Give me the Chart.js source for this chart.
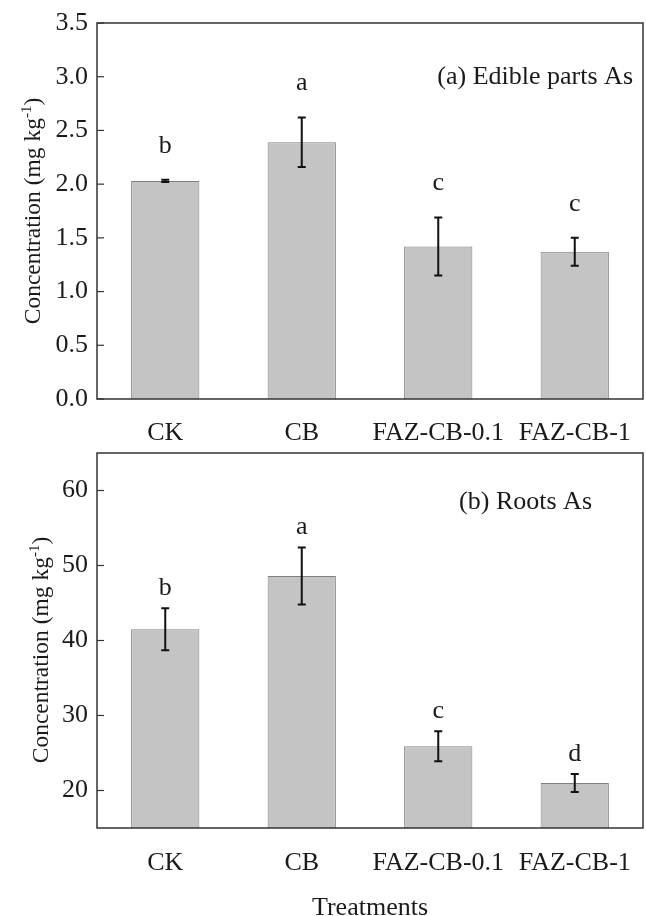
<!DOCTYPE html>
<html>
<head>
<meta charset="utf-8">
<script src="https://cdn.jsdelivr.net/npm/chart.js@4.4.1/dist/chart.umd.min.js"></script>
<style>
  html, body { margin: 0; padding: 0; background: #fff; }
  #wrap { position: relative; width: 646px; height: 916px; overflow: hidden; }
  canvas { position: absolute; left: 0; }
</style>
</head>
<body>
<div id="wrap">
  <canvas id="top" width="646" height="445" style="top:0"></canvas>
  <canvas id="bottom" width="646" height="471" style="top:445px"></canvas>
</div>
<script>
const categories = ['CK', 'CB', 'FAZ-CB-0.1', 'FAZ-CB-1'];
const edibleMeans = [2.03, 2.39, 1.42, 1.37];
const edibleErrors = [0.01, 0.23, 0.27, 0.13];
const edibleLetters = ['b', 'a', 'c', 'c'];
const edibleTicks = [0, 0.5, 1.0, 1.5, 2.0, 2.5, 3.0, 3.5];
const rootMeans = [41.5, 48.6, 25.9, 21.0];
const rootErrors = [2.8, 3.8, 2.0, 1.2];
const rootLetters = ['b', 'a', 'c', 'd'];
const rootTicks = [20, 30, 40, 50, 60];

const SERIF = '"Liberation Serif", "Times New Roman", serif';
const TXT = '#1a1a1a';

const decorPlugin = {
  id: 'decor',
  afterDatasetsDraw(chart, args, opts) {
    const ctx = chart.ctx;
    const ca = chart.chartArea;
    const x = chart.scales.x, y = chart.scales.y;
    ctx.save();
    // frame
    ctx.strokeStyle = '#333';
    ctx.lineWidth = 1.5;
    ctx.strokeRect(ca.left, ca.top, ca.right - ca.left, ca.bottom - ca.top);
    // inward ticks on left axis
    ctx.lineWidth = 1.2;
    y.ticks.forEach(t => {
      const py = y.getPixelForValue(t.value);
      ctx.beginPath();
      ctx.moveTo(ca.left, py);
      ctx.lineTo(ca.left + 7, py);
      ctx.stroke();
    });
    // error bars
    ctx.strokeStyle = '#111';
    ctx.lineWidth = 2;
    opts.means.forEach((m, i) => {
      const px = x.getPixelForValue(i);
      const yt = y.getPixelForValue(m + opts.errors[i]);
      const yb = y.getPixelForValue(m - opts.errors[i]);
      ctx.beginPath();
      ctx.moveTo(px, yt); ctx.lineTo(px, yb);
      ctx.moveTo(px - 4, yt); ctx.lineTo(px + 4, yt);
      ctx.moveTo(px - 4, yb); ctx.lineTo(px + 4, yb);
      ctx.stroke();
    });
    // significance letters
    ctx.fillStyle = TXT;
    ctx.font = '26px ' + SERIF;
    ctx.textAlign = 'center';
    ctx.textBaseline = 'middle';
    opts.letters.forEach((l, i) => {
      const px = x.getPixelForValue(i);
      const yt = y.getPixelForValue(opts.means[i] + opts.errors[i]);
      ctx.fillText(l, px, yt - opts.letterGap);
    });
    // panel label
    ctx.textAlign = 'right';
    ctx.fillText(opts.label, opts.labelX, ca.top + opts.labelDy);
    // y-axis title with superscript
    ctx.save();
    ctx.translate(opts.titleX, opts.titleY);
    ctx.rotate(-Math.PI / 2);
    ctx.textAlign = 'left';
    ctx.textBaseline = 'alphabetic';
    const mainFont = '23.5px ' + SERIF, supFont = '15px ' + SERIF;
    const p1 = 'Concentration (mg kg', p2 = '-1', p3 = ')';
    ctx.font = mainFont; const w1 = ctx.measureText(p1).width, w3 = ctx.measureText(p3).width;
    ctx.font = supFont; const w2 = ctx.measureText(p2).width;
    let sx = -(w1 + w2 + w3) / 2;
    const base = 8;
    ctx.font = mainFont; ctx.fillText(p1, sx, base); sx += w1;
    ctx.font = supFont; ctx.fillText(p2, sx, base - 9); sx += w2;
    ctx.font = mainFont; ctx.fillText(p3, sx, base);
    ctx.restore();
    ctx.restore();
  }
};

function makeChart(id, means, errors, letters, ticks, ymin, ymax, cfg) {
  return new Chart(document.getElementById(id), {
    type: 'bar',
    data: {
      labels: categories,
      datasets: [{
        data: means,
        backgroundColor: '#c4c4c4',
        borderColor: '#808080',
        borderWidth: 1,
        barPercentage: 0.5,
        categoryPercentage: 1.0
      }]
    },
    options: {
      responsive: false,
      animation: false,
      devicePixelRatio: 1,
      layout: { padding: { left: 0, right: 3, top: cfg.padTop, bottom: 0 } },
      plugins: {
        legend: { display: false },
        tooltip: { enabled: false },
        decor: {
          means: means, errors: errors, letters: letters,
          letterGap: cfg.letterGap, label: cfg.label, labelX: cfg.labelX, labelDy: cfg.labelDy,
          titleX: cfg.titleX, titleY: cfg.titleY
        }
      },
      scales: {
        x: {
          grid: { display: false, drawTicks: false },
          border: { display: false },
          ticks: { font: { family: SERIF, size: 26 }, color: TXT, padding: cfg.xPad, maxRotation: 0, autoSkip: false },
          title: cfg.xTitle ? {
            display: true, text: 'Treatments', color: TXT,
            font: { family: SERIF, size: 26, lineHeight: 1 },
            padding: { top: 0, bottom: cfg.xTitlePad }
          } : { display: false },
          afterFit(s) { s.height = cfg.xHeight; s.paddingLeft = 0; s.paddingRight = 0; }
        },
        y: {
          min: ymin, max: ymax,
          grid: { display: false, drawTicks: false },
          border: { display: false },
          afterBuildTicks(s) { s.ticks = ticks.map(v => ({ value: v })); },
          ticks: {
            font: { family: SERIF, size: 26 }, color: TXT, padding: 9,
            callback: v => cfg.decimals ? Number(v).toFixed(1) : String(v)
          },
          title: { display: false },
          afterFit(s) { s.width = 97; s.paddingTop = 0; s.paddingBottom = 0; }
        }
      }
    },
    plugins: [decorPlugin]
  });
}

makeChart('top', edibleMeans, edibleErrors, edibleLetters, edibleTicks, 0, 3.5, {
  padTop: 23, xHeight: 46, xPad: 19, xTitle: false, decimals: true,
  titleX: 32, titleY: 211, letterGap: 34, label: '(a) Edible parts As', labelX: 633, labelDy: 54
});
makeChart('bottom', rootMeans, rootErrors, rootLetters, rootTicks, 15, 65, {
  padTop: 8, xHeight: 88, xPad: 20, xTitle: true, xTitlePad: -5, decimals: false,
  titleX: 40, titleY: 205, letterGap: 20, label: '(b) Roots As', labelX: 592, labelDy: 49
});
</script>
</body>
</html>
